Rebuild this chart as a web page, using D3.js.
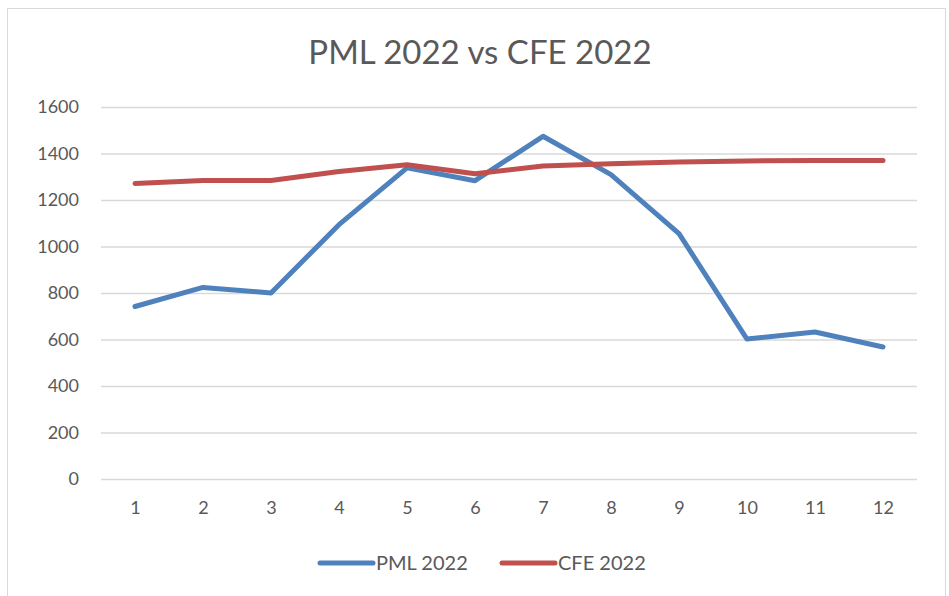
<!DOCTYPE html>
<html>
<head>
<meta charset="utf-8">
<script src="https://cdn.jsdelivr.net/npm/d3@7"></script>
<style>
  body { margin: 0; background: #fff; }
  svg { display: block; font-family: Lato, "Open Sans", sans-serif; }
</style>
</head>
<body>
<svg id="chart" width="949" height="596"></svg>
<script>
const months = [1, 2, 3, 4, 5, 6, 7, 8, 9, 10, 11, 12];
const pml2022 = [742, 824, 800, 1094, 1338, 1283, 1474, 1309, 1055, 602, 632, 568];
const cfe2022 = [1271, 1284, 1284, 1323, 1352, 1313, 1346, 1356, 1363, 1368, 1370, 1370];
const yTicks = [0, 200, 400, 600, 800, 1000, 1200, 1400, 1600];

const series = [
  { name: "PML 2022", values: pml2022, color: "#4F81BD" },
  { name: "CFE 2022", values: cfe2022, color: "#C0504D" }
];

const svg = d3.select("#chart");
const textColor = "#595959";

// chart border
svg.append("rect")
  .attr("x", 7.5).attr("y", 8.5)
  .attr("width", 938).attr("height", 600)
  .attr("fill", "#fff")
  .attr("stroke", "#d9d9d9");

const plotLeft = 101, plotRight = 917, plotTop = 107, plotBottom = 479;

const x = d3.scalePoint().domain(months).range([plotLeft, plotRight]).padding(0.5);
const y = d3.scaleLinear().domain([0, 1600]).range([plotBottom, plotTop]);

// title
svg.append("text")
  .attr("x", 480).attr("y", 64)
  .attr("text-anchor", "middle")
  .attr("font-size", 33)
  .attr("fill", textColor)
  .text("PML 2022 vs CFE 2022");

// gridlines + y labels
const yAxis = svg.append("g")
  .attr("transform", `translate(${plotLeft},0)`)
  .call(d3.axisLeft(y).tickValues(yTicks).tickFormat(d3.format("d"))
    .tickSize(-(plotRight - plotLeft)).tickPadding(22));
yAxis.select(".domain").remove();
yAxis.selectAll(".tick line").attr("stroke", "#d9d9d9").attr("stroke-width", 1.5);
yAxis.selectAll(".tick text")
  .attr("font-size", 18).attr("fill", textColor)
  .attr("font-family", "Lato, 'Open Sans', sans-serif");

// x labels
const xAxis = svg.append("g")
  .attr("transform", `translate(0,${plotBottom})`)
  .call(d3.axisBottom(x).tickSize(0).tickPadding(22));
xAxis.select(".domain").remove();
xAxis.selectAll(".tick text")
  .attr("font-size", 18).attr("fill", textColor)
  .attr("font-family", "Lato, 'Open Sans', sans-serif");

// lines
const line = d3.line()
  .x((d, i) => x(months[i]))
  .y(d => y(d));

svg.selectAll(".series")
  .data(series)
  .join("path")
  .attr("class", "series")
  .attr("fill", "none")
  .attr("stroke", d => d.color)
  .attr("stroke-width", 5)
  .attr("stroke-linecap", "round")
  .attr("stroke-linejoin", "round")
  .attr("d", d => line(d.values));

// legend
const legendX = [318, 500];
const legend = svg.selectAll(".legend")
  .data(series)
  .join("g")
  .attr("class", "legend")
  .attr("transform", (d, i) => `translate(${legendX[i]},563)`);
legend.append("line")
  .attr("x1", 2).attr("x2", 55)
  .attr("stroke", d => d.color)
  .attr("stroke-width", 5)
  .attr("stroke-linecap", "round");
legend.append("text")
  .attr("x", 58).attr("y", 7)
  .attr("font-size", 20)
  .attr("fill", textColor)
  .text(d => d.name);
</script>
</body>
</html>
